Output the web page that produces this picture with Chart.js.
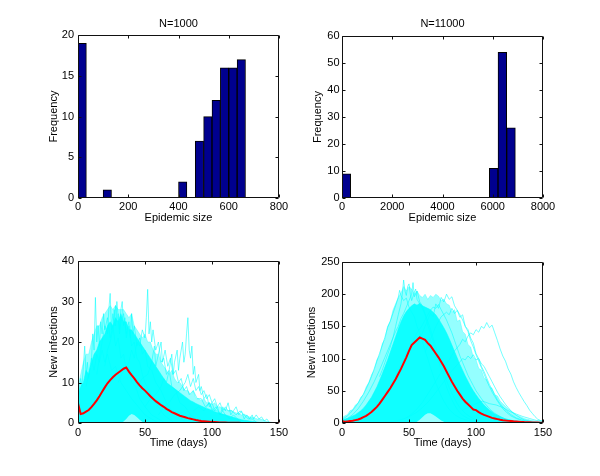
<!DOCTYPE html>
<html><head><meta charset="utf-8">
<script src="https://cdn.jsdelivr.net/npm/chart.js@4.4.0/dist/chart.umd.min.js"></script>
<style>
html,body{margin:0;padding:0;background:#fff;}
#wrap{position:relative;width:600px;height:476px;overflow:hidden;background:#fff;}
#wrap canvas{position:absolute;}
</style></head><body>
<div id="wrap">
<canvas id="c1" width="300" height="238" style="left:0px;top:0px"></canvas>
<canvas id="c2" width="300" height="238" style="left:300px;top:0px"></canvas>
<canvas id="c3" width="300" height="238" style="left:0px;top:238px"></canvas>
<canvas id="c4" width="300" height="238" style="left:300px;top:238px"></canvas>
</div>
<script>
// ---------- Histogram data ----------
const histCenters1000 = [16.7,50,83.3,116.7,150,183.3,216.7,250,283.3,316.7,350,383.3,416.7,450,483.3,516.7,550,583.3,616.7,650];
const histFreq1000    = [19,0,0,1,0,0,0,0,0,0,0,0,2,0,7,10,12,16,16,17];
const histCenters11000 = [172,517,862,1207,1552,1897,2242,2587,2932,3277,3622,3967,4312,4657,5002,5347,5692,6037,6382,6727];
const histFreq11000    = [9,0,0,0,0,0,0,0,0,0,0,0,0,0,0,0,0,11,54,26];

// ---------- Time grid (days) ----------
const days = [0,2,4,6,8,10,12,14,16,18,
  20,22,24,26,28,30,32,34,36,38,
  40,42,44,46,48,50,52,54,56,58,
  60,62,64,66,68,70,72,74,76,78,
  80,82,84,86,88,90,92,94,96,98,
  100,102,104,106,108,110,112,114,116,118,
  120,122,124,126,128,130,132,134,136,138,
  140,142,144,146,148,150];

// ---------- N=1000 epidemic curves ----------
const meanN1000 = [4.9,2.2,2.4,2.8,3.2,3.9,4.7,5.6,6.6,7.7,
  8.8,9.8,10.6,11.3,11.9,12.4,12.9,13.4,13.7,12.7,
  11.8,11.0,10.1,9.3,8.6,8.0,7.3,6.6,6.0,5.4,
  4.9,4.4,4.0,3.5,3.1,2.7,2.4,2.1,1.8,1.6,
  1.4,1.2,1.05,0.9,0.75,0.62,0.52,0.44,0.37,0.31,
  0.26,0.22,0.18,0.15,0.12,0.1,0.08,0.07,0.06,0.05,
  0.04,0.03,0.03,0.02,0.02,0.02,0.01,0.01,0.01,0.01,
  0,0,0,0,0,0];
const spreadHiN1000 = [9,12,15,17,17,20,22,24,24,26,
  27,28,29,28,29,28,28,28,27,26,
  27,24,23,22,21,22,20,20,18,17,
  17,15,14,13,12,13,11,10,10,9,
  8,8,7,8,6,6,5.5,6,5,5,
  4.5,5,4,4,3.5,3.5,3,3.2,2.8,2.5,
  2.5,2,2.2,1.8,1.5,1.5,1.2,1,1,0.8,
  0.5,0.3,0.2,0.1,0,0];
const coreHiN1000 = [7,9,10,13,12,15,17,18,20,21,
  22,24,25,24,26,25,27,25,25,23,
  23,22,21,20,19,18,17,16,15,14,
  13,12,11,10,9.5,9,8.5,8,7.5,7,
  6.5,6,5.5,5.2,4.8,4.5,4.2,3.9,3.6,3.4,
  3.1,2.8,2.6,2.4,2.2,2,1.8,1.6,1.4,1.2,
  1,0.8,0.7,0.6,0.5,0.4,0.3,0.2,0.1,0,
  0,0,0,0,0,0];
const coreLoN1000 = [0,0,0,0,0,0,0,0,0,0,
  0,0,0,0,0,0,0,0.4,1,1.8,
  2.2,2,1.4,0.8,0.3,0,0,0,0,0,
  0,0,0,0,0,0,0,0,0,0,
  0,0,0,0,0,0,0,0,0,0,
  0,0,0,0,0,0,0,0,0,0,
  0,0,0,0,0,0,0,0,0,0,
  0,0,0,0,0,0];
const runA1000 = [[6,9],[8,12],[10,15],[11,22],[12,18],[13,31],[14,20],[15,24],[16,19],[17,25],[18,22],[19,27],[20,23],[22,26],[24,21],[26,24],[28,19],[30,21],[32,16],[34,17],[36,13],[38,14],[40,10],[43,9],[46,6],[50,4],[55,2],[60,1],[65,0]];
const runB1000 = [[14,12],[16,16],[18,20],[20,24],[22,22],[23,28],[24,32],[25,23],[26,27],[27,24],[28,29],[29,25],[30,27],[31,23],[32,28],[33,30],[34,24],[35,26],[36,21],[38,24],[40,19],[42,20],[44,16],[46,15],[48,12],[50,10],[53,8],[56,6],[60,4],[64,2],[68,1],[72,0]];
const runC1000 = [[30,10],[34,13],[38,15],[40,18],[42,16],[44,20],[46,19],[48,23],[50,21],[51,26],[52,33],[53,22],[54,25],[55,20],[56,23],[58,18],[60,20],[62,15],[64,16],[66,12],[68,13],[70,9],[73,8],[76,5],[80,4],[84,2],[88,1],[92,0]];
const runD1000 = [[50,4],[54,6],[58,7],[62,9],[64,11],[66,10],[68,13],[70,17],[71,12],[72,15],[74,18],[75,13],[76,16],[78,20],[79,15],[80,17],[81,22],[82,26],[83,18],[84,16],[85,19],[86,12],[87,14],[88,10],[90,12],[91,8],[92,9],[94,6],[96,7],[98,4],[100,5],[102,3],[104,4],[106,2],[108,3],[110,2],[113,1],[116,2],[119,1],[122,0]];
const runE1000 = [[0,5],[1,8],[2,11],[3,9],[4,14],[5,19],[6,12],[7,15],[8,11],[9,14],[10,16],[12,13],[14,17],[16,15],[18,18],[20,15],[22,17],[25,13],[28,14],[32,10],[36,8],[40,6],[45,4],[50,2],[55,1],[60,0]];
const runF1000 = [[20,14],[22,18],[24,20],[26,23],[27,28],[28,24],[29,30],[30,26],[31,22],[32,25],[34,27],[36,22],[38,25],[39,21],[40,27],[41,22],[42,24],[44,19],[46,21],[48,17],[50,18],[52,14],[55,13],[58,10],[62,8],[66,5],[70,3],[75,2],[80,0]];
const runG1000 = [[86,3],[90,4],[94,3],[98,5],[100,3],[103,4],[106,2],[108,4],[110,3],[112,5],[114,2],[116,3],[118,4],[120,2],[122,3],[124,1],[126,2],[128,1],[130,2],[131,1],[133,2],[135,1],[137,1.5],[139,0.5],[141,1],[143,0]];
const runH1000 = [[44,9],[48,11],[52,12],[55,15],[57,19],[58,14],[60,17],[62,20],[63,15],[65,18],[67,14],[69,16],[71,12],[73,13],[75,10],[77,11],[79,8],[81,9],[83,7],[86,8],[89,6],[92,6],[95,4],[98,5],[101,3],[104,3],[107,2],[110,2],[114,1],[118,1],[122,0]];
const runI1000 = [[60,2],[64,4],[68,5],[72,7],[76,8],[80,10],[82,12],[84,9],[86,11],[88,8],[90,9],[92,7],[94,8],[96,6],[98,7],[100,5],[102,6],[104,4],[106,5],[108,3],[110,4],[112,3],[115,3],[118,2],[121,3],[124,2],[127,1],[130,1],[134,0]];

// ---------- N=11000 epidemic curves ----------
const meanN11000 = [3,2,2.5,3,3.5,4.5,5.5,7,9,11,
  14,17,21,25,30,36,42,48,54,61,
  68,76,84,93,102,112,121,125,129,133,
  131,129,124,120,114,108,102,95,88,80,
  72,64,57,50,44,38,33,29,25,21,
  20,17,14.5,12.5,11,9.5,8,7,6,5,
  4.2,3.7,3.3,3,2.6,2.3,2,1.7,1.4,1.2,
  1,0.8,0.7,0.6,0.5,0.5];
const spreadHiN11000 = [8,11,13,19,21,28,31,40,44,56,
  63,75,82,98,105,123,130,150,158,175,
  185,195,202,212,205,212,208,200,205,198,
  195,200,192,198,195,200,197,190,192,185,
  183,172,176,158,160,142,138,122,118,102,
  98,85,82,70,67,56,54,44,42,34,
  30,26,22,19,16,13,11,9,7,6,
  5,4,3,2.5,2,1.5];
const coreHiN11000 = [5,6,7,9,11,13,16,19,23,28,
  34,40,48,56,66,76,87,98,110,122,
  134,146,157,166,173,178,182,185,183,186,
  182,180,178,176,172,168,162,155,148,140,
  131,121,111,101,91,82,73,65,57,50,
  44,38,33,28,24,20,17,14,12,10,
  8,6.5,5.5,4.5,3.5,3,2.5,2,1.5,1,
  0.8,0.5,0.3,0.2,0,0];
const coreLoN11000 = [0,0,0,0,0,0,0,0,0,0,
  0,0,0,0,0,0,0,0,0,0,
  0,0,0,0,0,0,0,0,2,5,
  9,13,15,15,13,10,7,4,2,0,
  0,0,0,0,0,0,0,0,0,0,
  0,0,0,0,0,0,0,0,0,0,
  0,0,0,0,0,0,0,0,0,0,
  0,0,0,0,0,0];
const runA11000 = [[48,8],[52,14],[56,22],[60,32],[64,45],[68,58],[72,72],[76,86],[80,98],[84,112],[88,122],[90,130],[92,126],[94,135],[96,140],[98,137],[100,145],[102,141],[104,150],[106,147],[108,156],[110,148],[112,152],[114,140],[116,128],[118,115],[120,104],[122,96],[124,84],[126,76],[128,64],[130,55],[132,47],[134,40],[136,33],[138,27],[140,20],[142,15],[144,10],[146,6],[148,4],[150,2]];
const runB11000 = [[56,120],[60,140],[63,155],[66,170],[68,165],[70,185],[72,178],[74,195],[76,188],[78,200],[80,192],[82,196],[84,182],[86,175],[88,168],[90,160],[92,150],[94,142],[96,128],[98,118],[100,106],[102,96],[104,86],[106,76],[108,66],[110,57],[112,48],[114,41],[116,34],[118,28],[120,22],[123,16],[126,11],[130,7],[134,4],[138,2],[142,1]];
const runC11000 = [[62,110],[66,130],[70,150],[74,165],[78,172],[80,168],[82,178],[84,170],[86,175],[88,164],[90,168],[92,150],[94,145],[96,132],[98,124],[100,108],[102,100],[104,88],[106,80],[108,70],[110,60],[112,52],[114,44],[116,36],[118,30],[120,25],[123,18],[126,13],[130,8],[134,5],[138,3],[142,1.5],[146,0.5]];
const runD11000 = [[28,72],[30,82],[32,94],[34,106],[36,118],[38,132],[40,150],[42,168],[44,185],[45,200],[46,222],[47,205],[48,198],[49,212],[50,216],[51,200],[52,190],[54,203],[55,208],[56,192],[58,185],[60,178],[62,168],[64,152],[66,140],[68,126],[70,110],[72,96],[74,82],[76,70],[78,56],[80,45],[82,36],[84,28],[86,21],[88,16],[90,12],[94,7],[98,4],[102,2],[106,1]];
const runE11000 = [[0,5],[2,8],[4,11],[6,15],[8,20],[10,25],[12,31],[14,38],[16,45],[18,53],[20,62],[22,72],[24,84],[26,96],[28,108],[30,120],[32,133],[34,148],[36,158],[38,170],[40,182],[42,195],[43,206],[44,198],[46,190],[48,194],[50,180],[52,172],[54,165],[56,150],[58,140],[60,126],[62,112],[64,100],[66,86],[68,74],[70,62],[72,52],[74,42],[76,34],[78,27],[80,21],[84,13],[88,8],[92,5],[96,3],[100,1]];
const runF11000 = [[0,3],[4,7],[8,13],[12,22],[16,34],[20,48],[24,64],[28,82],[32,102],[36,122],[40,142],[42,150],[44,162],[46,170],[48,180],[50,190],[52,200],[53,218],[54,196],[56,205],[58,188],[60,182],[62,170],[64,158],[66,146],[68,132],[70,118],[72,104],[74,90],[76,78],[78,66],[80,55],[82,46],[84,38],[86,30],[88,24],[92,15],[96,9],[100,5],[104,3],[108,1]];
const runG11000 = [[36,2],[40,3],[44,5],[48,8],[52,12],[56,17],[60,24],[64,32],[68,42],[72,53],[76,64],[80,76],[84,86],[88,95],[90,100],[92,98],[94,104],[96,100],[98,106],[100,98],[102,100],[104,92],[106,88],[108,80],[110,72],[112,64],[114,56],[116,48],[118,41],[120,35],[122,29],[124,24],[126,19],[128,15],[130,12],[133,8],[136,5],[140,3],[144,1.5],[148,0.5]];
const runH11000 = [[0,2],[6,4],[12,7],[18,12],[24,20],[28,28],[32,40],[36,55],[40,72],[44,90],[48,108],[52,124],[56,140],[60,152],[62,160],[64,168],[66,175],[68,180],[70,178],[72,184],[74,176],[76,168],[78,160],[80,150],[82,140],[84,128],[86,116],[88,104],[90,94],[92,84],[94,74],[96,66],[98,58],[100,50],[102,44],[104,38],[106,32],[108,27],[110,22],[114,15],[118,10],[122,6],[126,4],[130,2],[135,1]];
const runI11000 = [[90,20],[95,25],[100,30],[105,34],[110,30],[115,28],[120,24],[125,18],[130,14],[135,10],[140,7],[145,4],[150,3]];

// ---------- Tick labels / titles ----------
const titleTop = ['N=1000', 'N=11000'];
const xLabelHist = 'Epidemic size';
const xLabelTime = 'Time (days)';
const yLabelHist = 'Frequency';
const yLabelTime = 'New infections';

// ---------- Helpers ----------
const CYAN_LINE = 'rgba(0,255,255,0.8)';
const zipXY = (xs, ys) => xs.map((x, i) => ({x: x, y: ys[i]}));
const pairsXY = arr => arr.map(p => ({x: p[0], y: p[1]}));

Chart.defaults.font.family = '"Liberation Sans", Arial, Helvetica, sans-serif';
Chart.defaults.font.size = 11;
Chart.defaults.color = '#000';

const boxPlugin = {
  id: 'matlabBox',
  afterDatasetsDraw(chart) {
    const {ctx, chartArea: a, scales} = chart;
    const xs = scales.x, ys = scales.y;
    ctx.save();
    ctx.strokeStyle = '#111';
    ctx.lineWidth = 1;
    const L = Math.round(a.left) + 0.5, R = Math.round(a.right) - 0.5;
    const T = Math.round(a.top) + 0.5, B = Math.round(a.bottom) - 0.5;
    ctx.beginPath();
    ctx.rect(L, T, R - L, B - T);
    const tl = 3;
    xs.ticks.forEach(t => {
      const p = Math.round(xs.getPixelForValue(t.value)) + 0.5;
      ctx.moveTo(p, B); ctx.lineTo(p, B - tl);
      ctx.moveTo(p, T); ctx.lineTo(p, T + tl);
    });
    ys.ticks.forEach(t => {
      const p = Math.round(ys.getPixelForValue(t.value)) + 0.5;
      ctx.moveTo(L, p); ctx.lineTo(L + tl, p);
      ctx.moveTo(R, p); ctx.lineTo(R - tl, p);
    });
    ctx.stroke();
    ctx.restore();
  }
};

function makeScales(o) {
  return {
    x: {
      type: 'linear', min: o.xmin, max: o.xmax, offset: false,
      ticks: {stepSize: o.xstep, padding: o.xpad, maxRotation: 0, autoSkip: false, callback: v => String(v), color: '#000'},
      grid: {display: false, drawTicks: false, offset: false},
      border: {display: false},
      title: {display: true, text: o.xtitle, color: '#000', padding: {top: 0, bottom: o.xtpb}},
      afterFit(s) { s.height = o.xh; }
    },
    y: {
      type: 'linear', min: o.ymin, max: o.ymax,
      ticks: {stepSize: o.ystep, padding: o.ypad, callback: v => String(v), color: '#000'},
      grid: {display: false, drawTicks: false},
      border: {display: false},
      title: {display: true, text: o.ytitle, color: '#000', padding: {top: o.ytpt, bottom: 0}},
      afterFit(s) { s.width = o.yw; }
    }
  };
}

function baseOptions(o) {
  return {
    responsive: false, animation: false, devicePixelRatio: 1,
    layout: {padding: o.pad},
    plugins: {
      legend: {display: false}, tooltip: {enabled: false},
      title: o.title ? {display: true, text: o.title, fullSize: false, color: '#000',
        font: {size: 11, weight: 'normal'}, padding: {top: 17, bottom: o.titlePb}} : {display: false}
    },
    elements: {point: {radius: 0}, line: {tension: 0}},
    scales: makeScales(o)
  };
}

function histChart(id, centers, freq, o) {
  return new Chart(document.getElementById(id), {
    type: 'bar',
    data: {datasets: [{
      data: zipXY(centers, freq),
      backgroundColor: '#00008F', borderColor: '#000', borderWidth: 1, borderSkipped: false,
      barPercentage: 1, categoryPercentage: 1
    }]},
    options: baseOptions(o),
    plugins: [boxPlugin]
  });
}

function curveChart(id, mean, spreadHi, coreHi, coreLo, runs, o) {
  const ds = [];
  ds.push({data: zipXY(days, mean), borderColor: '#FF0000', borderWidth: 2, fill: false});
  runs.forEach(r => ds.push({data: pairsXY(r), borderColor: CYAN_LINE, borderWidth: 0.7, fill: false}));
  const coreIdx = ds.length;
  ds.push({data: zipXY(days, coreHi), borderColor: 'rgba(0,255,255,0.9)', borderWidth: 0.6,
    backgroundColor: 'rgba(0,255,255,0.9)', fill: {target: coreIdx + 1}});
  ds.push({data: zipXY(days, coreLo), borderColor: 'rgba(0,0,0,0)', borderWidth: 0, fill: false});
  ds.push({data: zipXY(days, spreadHi), borderColor: 'rgba(0,255,255,0.5)', borderWidth: 0.6,
    backgroundColor: 'rgba(0,255,255,0.42)', fill: 'origin'});
  return new Chart(document.getElementById(id), {
    type: 'line',
    data: {datasets: ds},
    options: baseOptions(o),
    plugins: [boxPlugin]
  });
}

histChart('c1', histCenters1000, histFreq1000, {
  title: titleTop[0], titlePb: 5,
  pad: {left: 0, right: 21, top: 0, bottom: 0},
  xmin: 0, xmax: 800, xstep: 200, xpad: 2, xtitle: xLabelHist, xtpb: 13, xh: 40,
  ymin: 0, ymax: 20, ystep: 5, ypad: 4, ytitle: yLabelHist, ytpt: 47.4, yw: 78
});
histChart('c2', histCenters11000, histFreq11000, {
  title: titleTop[1], titlePb: 6,
  pad: {left: 0, right: 57, top: 0, bottom: 0},
  xmin: 0, xmax: 8000, xstep: 2000, xpad: 2, xtitle: xLabelHist, xtpb: 13, xh: 40,
  ymin: 0, ymax: 60, ystep: 10, ypad: 2.5, ytitle: yLabelHist, ytpt: 11.4, yw: 42
});
curveChart('c3', meanN1000, spreadHiN1000, coreHiN1000, coreLoN1000,
  [runA1000, runB1000, runC1000, runD1000, runE1000, runF1000, runG1000, runH1000, runI1000], {
  pad: {left: 0, right: 21, top: 23, bottom: 23},
  xmin: 0, xmax: 150, xstep: 50, xpad: 3, xtitle: xLabelTime, xtpb: 3, xh: 30,
  ymin: 0, ymax: 40, ystep: 10, ypad: 4, ytitle: yLabelTime, ytpt: 47.4, yw: 78
});
curveChart('c4', meanN11000, spreadHiN11000, coreHiN11000, coreLoN11000,
  [runA11000, runB11000, runC11000, runD11000, runE11000, runF11000, runG11000, runH11000, runI11000], {
  pad: {left: 0, right: 57, top: 24, bottom: 23},
  xmin: 0, xmax: 150, xstep: 50, xpad: 3, xtitle: xLabelTime, xtpb: 3, xh: 30,
  ymin: 0, ymax: 250, ystep: 50, ypad: 2.5, ytitle: yLabelTime, ytpt: 5.4, yw: 42
});
</script>
</body></html>
